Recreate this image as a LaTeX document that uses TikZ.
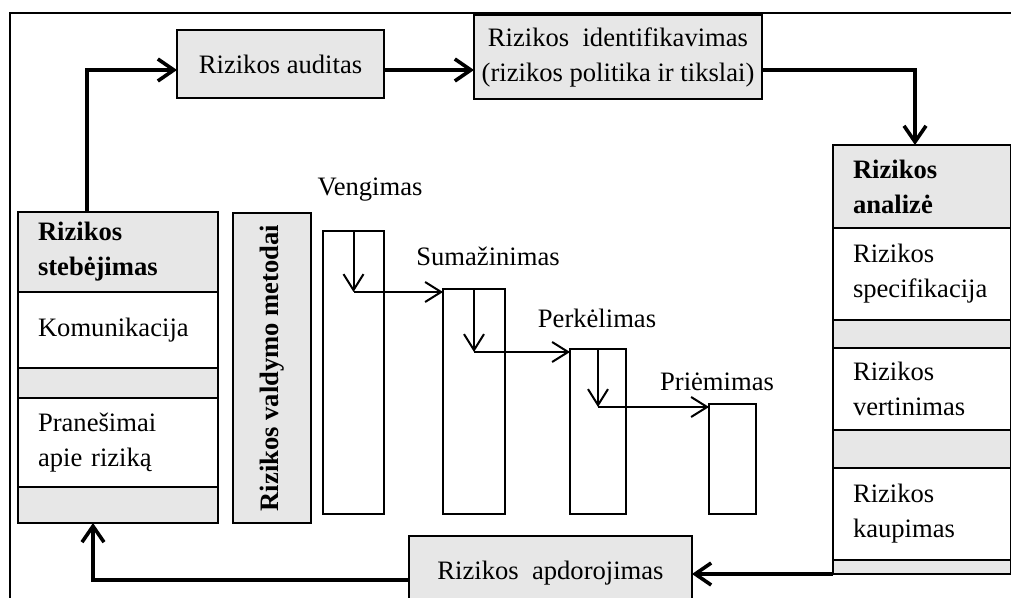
\documentclass[tikz,border=0pt]{standalone}
\usepackage{fontspec}
\setmainfont{Liberation Serif}
\usepackage{xcolor}
\usepackage{tikz}
\usetikzlibrary{arrows.meta, calc, positioning}
\definecolor{boxgray}{RGB}{231,231,231}

\begin{document}
\begin{tikzpicture}[x=0.5pt, y=-0.5pt,
    every node/.style={font=\fontsize{13.3}{17.5}\selectfont, inner sep=0pt, outer sep=0pt},
    graybox/.style={draw, line width=0.7pt, fill=boxgray},
    whitebox/.style={draw, line width=0.7pt, fill=white},
    moncell/.style={minimum width=100pt, text width=80pt, inner xsep=10pt, align=left},
    ancell/.style={minimum width=89pt, text width=69pt, inner xsep=10pt, align=left},
    mainarrow/.style={line width=1.8pt, -{Straight Barb[length=8pt, width=11pt]}},
    thinarrow/.style={line width=1pt, -{Straight Barb[length=8pt, width=10pt]}}]
    \useasboundingbox (0,0) rectangle (1011,598);
    \draw[line width=1.2pt] (10,598) |- (1011,13);

    \node[graybox, minimum width=103.5pt, minimum height=34pt] (audit) at (280.5,64) {Rizikos auditas};
    \node[graybox, minimum width=144pt, minimum height=42pt, align=center] (ident) at (618,57) {Rizikos~~identifikavimas\\(rizikos politika ir tikslai)};
    \node[graybox, minimum width=141.5pt, minimum height=37pt] (treat) at (550.5,573) {Rizikos~~apdorojimas};

    \node[graybox, moncell, minimum height=40pt, anchor=north] (monhead) at (118,212) {\textbf{Rizikos}\\\textbf{stebėjimas}};
    \node[whitebox, moncell, minimum height=38pt, below=0pt of monhead] (moncom) {Komunikacija};
    \node[graybox, moncell, minimum height=15pt, below=0pt of moncom] (mongap1) {};
    \node[whitebox, moncell, minimum height=44.5pt, below=0pt of mongap1] (monmsg) {Pranešimai\\apie riziką};
    \node[graybox, moncell, minimum height=18pt, below=0pt of monmsg] (mongap2) {};

    \node[graybox, ancell, minimum height=41.5pt, anchor=north] (anhead) at (922,145) {\textbf{Rizikos}\\\textbf{analizė}};
    \node[whitebox, ancell, minimum height=46pt, below=0pt of anhead] (anspec) {Rizikos\\specifikacija};
    \node[graybox, ancell, minimum height=14pt, below=0pt of anspec] (angap1) {};
    \node[whitebox, ancell, minimum height=41pt, below=0pt of angap1] (aneval) {Rizikos\\vertinimas};
    \node[graybox, ancell, minimum height=19pt, below=0pt of aneval] (angap2) {};
    \node[whitebox, ancell, minimum height=46pt, below=0pt of angap2] (anacc) {Rizikos\\kaupimas};
    \node[graybox, ancell, minimum height=7pt, below=0pt of anacc] (angap3) {};

    \node[graybox, rotate=90, minimum width=155pt, minimum height=39pt, font=\fontsize{13.3}{17.5}\selectfont\bfseries] (methods) at (272,368) {Rizikos valdymo metodai};

    \foreach \n/\cx/\cy/\w/\h in {bar1/353.5/372.5/30.5/141.5, bar2/474/401.5/31/112.5, bar3/598/431.5/28/82.5, bar4/732.5/459/23.5/55}
      \node[whitebox, minimum width=\w pt, minimum height=\h pt] (\n) at (\cx,\cy) {};

    \node (lblavoid) at (370,190) {Vengimas};
    \node (lblreduce) at (488,256) {Sumažinimas};
    \node (lbltransfer) at (597,318) {Perkėlimas};
    \node (lblaccept) at (717,382) {Priėmimas};

    \foreach \a/\b in {bar1/bar2, bar2/bar3, bar3/bar4} {
      \coordinate (k\a) at ($(\a.north |- \b.north)+(0,3)$);
      \draw[thinarrow] (\a.north) -- (k\a);
      \draw[thinarrow] (k\a) -- (k\a -| \b.west);
    }

    \draw[mainarrow] ($(monhead.north)+(-31,0)$) |- ($(audit.west)+(0,6)$);
    \draw[mainarrow] ($(audit.east)+(0,6)$) -- ($(audit.east -| ident.west)+(0,6)$);
    \draw[mainarrow] ($(ident.east)+(0,13)$) -| ($(anhead.north)+(-7,0)$);
    \draw[mainarrow] (angap3.south west) -- (angap3.south west -| treat.east);
    \draw[mainarrow] ($(treat.west)+(0,7)$) -| ($(mongap2.south)+(-25,0)$);
  \end{tikzpicture}
\end{document}
